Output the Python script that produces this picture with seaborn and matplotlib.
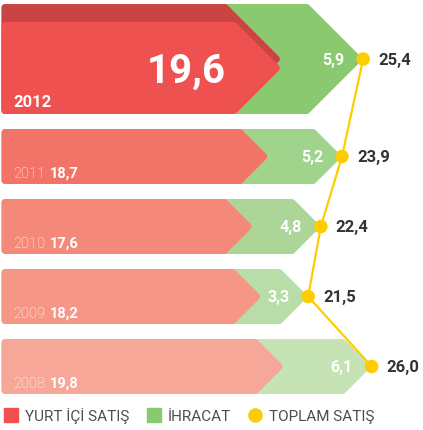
import matplotlib
matplotlib.use('Agg')
import matplotlib.pyplot as plt
from matplotlib.patches import Polygon
from matplotlib.lines import Line2D
import pandas as pd
import seaborn as sns

# Data (values in the chart)
years = ['2012', '2011', '2010', '2009', '2008']
domestic = [19.6, 18.7, 17.6, 18.2, 19.8]
export = [5.9, 5.2, 4.8, 3.3, 6.1]
total = [25.4, 23.9, 22.4, 21.5, 26.0]

domestic_lbl = ['19,6', '18,7', '17,6', '18,2', '19,8']
export_lbl = ['5,9', '5,2', '4,8', '3,3', '6,1']
total_lbl = ['25,4', '23,9', '22,4', '21,5', '26,0']

legend_labels = ['YURT İÇİ SATIŞ', 'İHRACAT', 'TOPLAM SATIŞ']

red_colors = ['#EF5050', '#F27468', '#F48979', '#F59686', '#F7A797']
green_colors = ['#8BC971', '#A0D38C', '#ABD698', '#B9DDA8', '#C6E3B6']
dark_red = '#CB4444'
yellow = '#FFCC00'

sns.set_theme(style='white')
plt.rcParams['font.family'] = ['Roboto', 'DejaVu Sans']

W, H = 423, 431
S = 14.1  # pixels per unit on the x axis
fig = plt.figure(figsize=(W / 100, H / 100), dpi=100)
ax = fig.add_axes([0, 0, 1, 1])
ax.set_xlim(-5 / S, (W - 5) / S)
ax.set_ylim(H, 0)
ax.axis('off')

# row layout (pixel rows)
tops = [5, 130, 200, 270, 340]
bots = [115, 185, 255, 325, 395]
mids = [(t + b) / 2 for t, b in zip(tops, bots)]


def arrow(top, bot, tip, color, z, r=3.5):
    half = (bot - top) / 2
    mid = (top + bot) / 2
    k = r * 1.414
    pts = [
        (0, top + r),
        (tip - (half - r + k) / S, top + r),
        (tip - k / S, mid),
        (tip - (half - r + k) / S, bot - r),
        (0, bot - r),
    ]
    ax.add_patch(Polygon(pts, closed=True, facecolor=color, edgecolor=color,
                         lw=2 * r * 0.72, joinstyle='round', zorder=z))


for i in range(len(years)):
    arrow(tops[i], bots[i], total[i], green_colors[i], 1)
    if i == 0:
        arrow(tops[i], bots[i], domestic[i], dark_red, 2)
        arrow(tops[i] + 18, bots[i], domestic[i], red_colors[i], 3)
    else:
        arrow(tops[i], bots[i], domestic[i], red_colors[i], 3)

# total line and dots
df = pd.DataFrame({'total': total, 'y': mids})
sns.lineplot(data=df, x='total', y='y', sort=False, estimator=None,
             color=yellow, lw=1.6, ax=ax, zorder=5)
sns.scatterplot(data=df, x='total', y='y', color=yellow, s=95,
                edgecolor='none', ax=ax, zorder=6)

# labels
for i in range(len(years)):
    ax.text(total[i] + 15 / S, mids[i], total_lbl[i], ha='left', va='center',
            fontsize=12, fontweight='bold', color='#333333', zorder=7)
    ax.text(total[i] - 19 / S, mids[i], export_lbl[i], ha='right', va='center',
            fontsize=11.5, fontweight='bold', color='white', zorder=7)
    if i == 0:
        ax.text(domestic[i] - 56 / S, mids[i] + 12, domestic_lbl[i], ha='right',
                va='center', fontsize=29, fontweight='bold', color='white', zorder=7)
        ax.text(8 / S, bots[i] - 8, years[i], ha='left', va='baseline',
                fontsize=12, fontweight='bold', color='white', zorder=7)
    else:
        t = ax.text(8 / S, bots[i] - 7, years[i], ha='left', va='baseline',
                    fontsize=10.5, fontweight='light', color='white', zorder=7)
        ax.annotate(domestic_lbl[i], xy=(1, 0), xycoords=t, xytext=(3.5, 0),
                    textcoords='offset points', ha='left', va='bottom',
                    fontsize=10.5, fontweight='bold', color='white', zorder=7)

handles = [
    Line2D([], [], marker='s', ls='', color=red_colors[0], markersize=10.5),
    Line2D([], [], marker='s', ls='', color='#8BC971', markersize=10.5),
    Line2D([], [], marker='o', ls='', color=yellow, markersize=9.5),
]
leg = ax.legend(handles, legend_labels, loc='center left', ncol=3,
                bbox_to_anchor=(3.5 / W, 1 - 416 / H), bbox_transform=fig.transFigure,
                frameon=False, fontsize=11, handlelength=1.0, handletextpad=0.4,
                columnspacing=1.1, borderpad=0, borderaxespad=0)
for txt in leg.get_texts():
    txt.set_color('#4D4D4D')

fig.savefig('out.png', dpi=100)
